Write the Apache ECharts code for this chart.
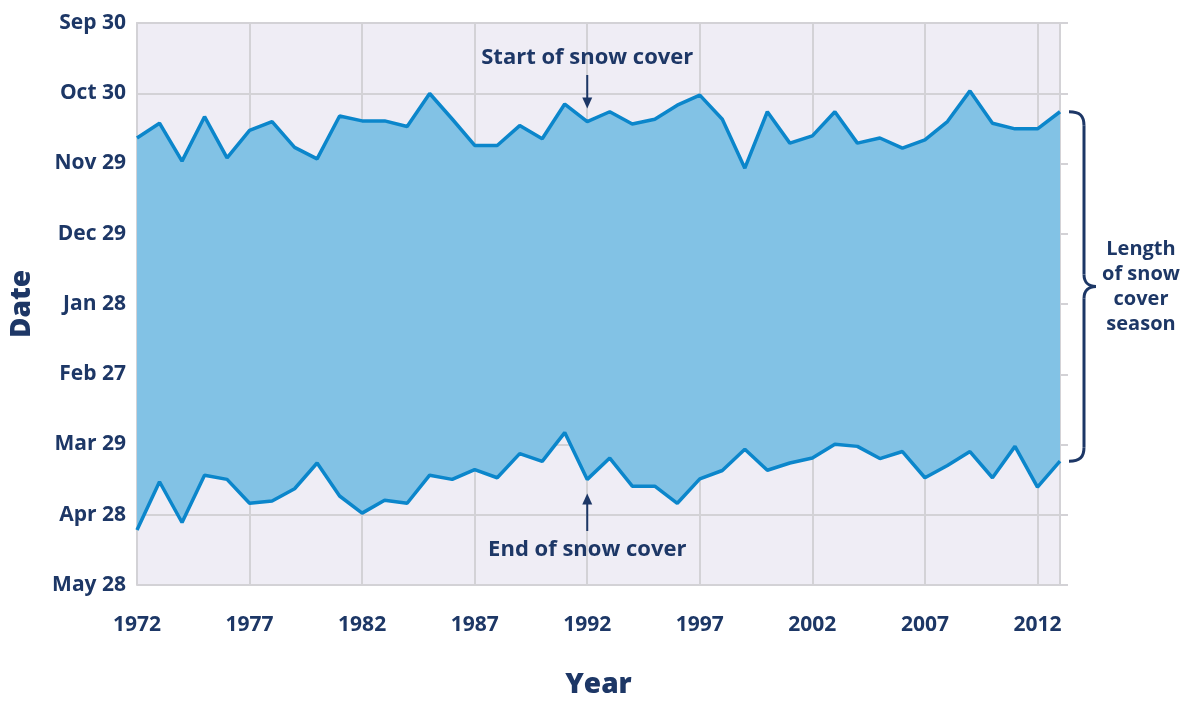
<!DOCTYPE html>
<html>
<head>
<meta charset="utf-8">
<script src="https://cdn.jsdelivr.net/npm/echarts@6/dist/echarts.min.js"></script>
<style>
  html, body { margin: 0; padding: 0; background: #ffffff; }
  #chart { width: 1183px; height: 704px; }
</style>
</head>
<body>
<div id="chart"></div>
<script>
// years on the x axis
const years = ['1972','1973','1974','1975','1976','1977','1978','1979','1980','1981',
  '1982','1983','1984','1985','1986','1987','1988','1989','1990','1991',
  '1992','1993','1994','1995','1996','1997','1998','1999','2000','2001',
  '2002','2003','2004','2005','2006','2007','2008','2009','2010','2011',
  '2012','2013']
// days after Sep 30 when snow cover starts
const startDays = [49.1, 42.8, 59.0, 40.0, 57.6, 45.9, 42.1, 53.1, 58.0, 39.7,
  41.8, 41.8, 44.2, 30.1, 41.0, 52.3, 52.3, 43.8, 49.4, 34.6,
  42.1, 37.9, 43.1, 41.1, 35.1, 30.8, 41.1, 62.0, 37.9, 51.3,
  48.2, 37.9, 51.3, 49.1, 53.4, 49.9, 42.1, 29.0, 42.8, 45.2,
  45.2, 37.9]
// days after Sep 30 when snow cover ends
const endDays = [216.5, 195.9, 213.3, 193.1, 194.9, 205.1, 204.1, 198.9, 187.9, 202.0,
  209.3, 203.8, 205.1, 193.1, 194.9, 190.7, 194.2, 183.9, 187.2, 174.9,
  194.9, 185.8, 197.8, 197.8, 205.1, 194.7, 191.1, 182.0, 191.0, 187.9,
  185.8, 179.9, 180.8, 186.0, 183.0, 194.2, 189.0, 183.0, 194.2, 180.8,
  198.2, 187.1]
// y tick labels, every 30 days from Sep 30
const dateLabels = ['Sep 30','Oct 30','Nov 29','Dec 29','Jan 28','Feb 27','Mar 29','Apr 28','May 28']

const navy = '#1d3766'
const font = '"Open Sans", sans-serif'
const gridGray = '#d3d2d6'

const chart = echarts.init(document.getElementById('chart'))

const seasonLength = endDays.map((v, i) => v - startDays[i])

const option = {
  animation: false,
  grid: {
    left: 137, right: 123, top: 23, bottom: 114,
    show: true, backgroundColor: '#efedf5', borderWidth: 0
  },
  xAxis: {
    type: 'category',
    data: years,
    boundaryGap: false,
    name: 'Year',
    nameLocation: 'middle',
    nameGap: 86,
    nameTextStyle: { color: navy, fontSize: 28, fontWeight: 800, fontFamily: font },
    axisLine: { show: true, lineStyle: { color: gridGray, width: 2 } },
    axisTick: { show: true, interval: 4, length: 15, lineStyle: { color: gridGray, width: 2 } },
    axisLabel: { interval: 4, margin: 30, color: navy, fontSize: 21, fontWeight: 'bold', fontFamily: font },
    splitLine: { show: true, interval: 4, lineStyle: { color: gridGray, width: 2 } }
  },
  yAxis: [
    {
      type: 'value',
      inverse: true,
      min: 0, max: 240, interval: 30,
      name: 'Date',
      nameLocation: 'middle',
      nameGap: 101,
      nameTextStyle: { color: navy, fontSize: 28, fontWeight: 800, fontFamily: font },
      axisLine: { show: true, lineStyle: { color: gridGray, width: 2 } },
      axisTick: { show: false },
      axisLabel: {
        margin: 11, color: navy, fontSize: 21, fontWeight: 'bold', fontFamily: font,
        formatter: (v) => dateLabels[Math.round(v / 30)]
      },
      splitLine: { show: true, lineStyle: { color: gridGray, width: 2 } }
    },
    {
      type: 'value',
      position: 'right',
      inverse: true,
      min: 0, max: 240, interval: 30,
      axisLine: { show: true, lineStyle: { color: gridGray, width: 2 } },
      axisTick: { show: true, length: 8, lineStyle: { color: gridGray, width: 2 } },
      axisLabel: { show: false },
      splitLine: { show: false }
    }
  ],
  series: [
    {
      type: 'line', stack: 'snow', data: startDays,
      symbol: 'none', lineStyle: { width: 0, opacity: 0 }, silent: true
    },
    {
      type: 'line', stack: 'snow', data: seasonLength,
      symbol: 'none', lineStyle: { width: 0, opacity: 0 },
      areaStyle: { color: '#82c2e5', opacity: 1 }, silent: true
    },
    {
      type: 'line', data: startDays, symbol: 'none',
      lineStyle: { color: '#0b86cb', width: 3.5 }
    },
    {
      type: 'line', data: endDays, symbol: 'none',
      lineStyle: { color: '#0b86cb', width: 3.5 }
    }
  ]
}
chart.setOption(option)

// annotations: arrows, brace and labels placed from the data positions
const last = years.length - 1
const pStart92 = chart.convertToPixel({ gridIndex: 0 }, ['1992', startDays[20]])
const pEnd92 = chart.convertToPixel({ gridIndex: 0 }, ['1992', endDays[20]])
const pTop = chart.convertToPixel({ gridIndex: 0 }, [years[last], startDays[last]])
const pBot = chart.convertToPixel({ gridIndex: 0 }, [years[last], endDays[last]])

const ax = pStart92[0]
const tipTop = pStart92[1] - 13
const tipBot = pEnd92[1] + 14

const bx = pTop[0] + 9
const yT = pTop[1]
const yB = pBot[1]
const yM = (yT + yB) / 2
const vx = bx + 15

const stroke = { stroke: navy, lineWidth: 3, fill: null }
const brace = [
  { type: 'bezierCurve', shape: { x1: bx, y1: yT, cpx1: bx + 11, cpy1: yT, cpx2: vx, cpy2: yT + 4, x2: vx, y2: yT + 14 }, style: stroke },
  { type: 'line', shape: { x1: vx, y1: yT + 14, x2: vx, y2: yM - 12 }, style: stroke },
  { type: 'bezierCurve', shape: { x1: vx, y1: yM - 12, cpx1: vx, cpy1: yM - 4, cpx2: vx + 5, cpy2: yM, x2: vx + 12, y2: yM }, style: stroke },
  { type: 'bezierCurve', shape: { x1: vx + 12, y1: yM, cpx1: vx + 5, cpy1: yM, cpx2: vx, cpy2: yM + 4, x2: vx, y2: yM + 12 }, style: stroke },
  { type: 'line', shape: { x1: vx, y1: yM + 12, x2: vx, y2: yB - 14 }, style: stroke },
  { type: 'bezierCurve', shape: { x1: vx, y1: yB - 14, cpx1: vx, cpy1: yB - 4, cpx2: bx + 11, cpy2: yB, x2: bx, y2: yB }, style: stroke }
]

const label = (text, x, y, size) => ({
  type: 'text',
  style: {
    text: text, x: x, y: y, fill: navy,
    font: 'bold ' + size + 'px ' + font, lineHeight: 25,
    align: 'center', verticalAlign: 'middle'
  }
})

chart.setOption({
  graphic: [
    label('Start of snow cover', ax, 58, 22),
    { type: 'line', shape: { x1: ax, y1: 75, x2: ax, y2: tipTop - 8 }, style: { stroke: navy, lineWidth: 2 } },
    { type: 'polygon', shape: { points: [[ax - 5, tipTop - 11], [ax + 5, tipTop - 11], [ax, tipTop]] }, style: { fill: navy } },
    label('End of snow cover', ax, 550, 22),
    { type: 'line', shape: { x1: ax, y1: 531, x2: ax, y2: tipBot + 8 }, style: { stroke: navy, lineWidth: 2 } },
    { type: 'polygon', shape: { points: [[ax - 5, tipBot + 11], [ax + 5, tipBot + 11], [ax, tipBot]] }, style: { fill: navy } },
    ...brace,
    label('Length\nof snow\ncover\nseason', 1141, yM, 20)
  ]
})
</script>
</body>
</html>
